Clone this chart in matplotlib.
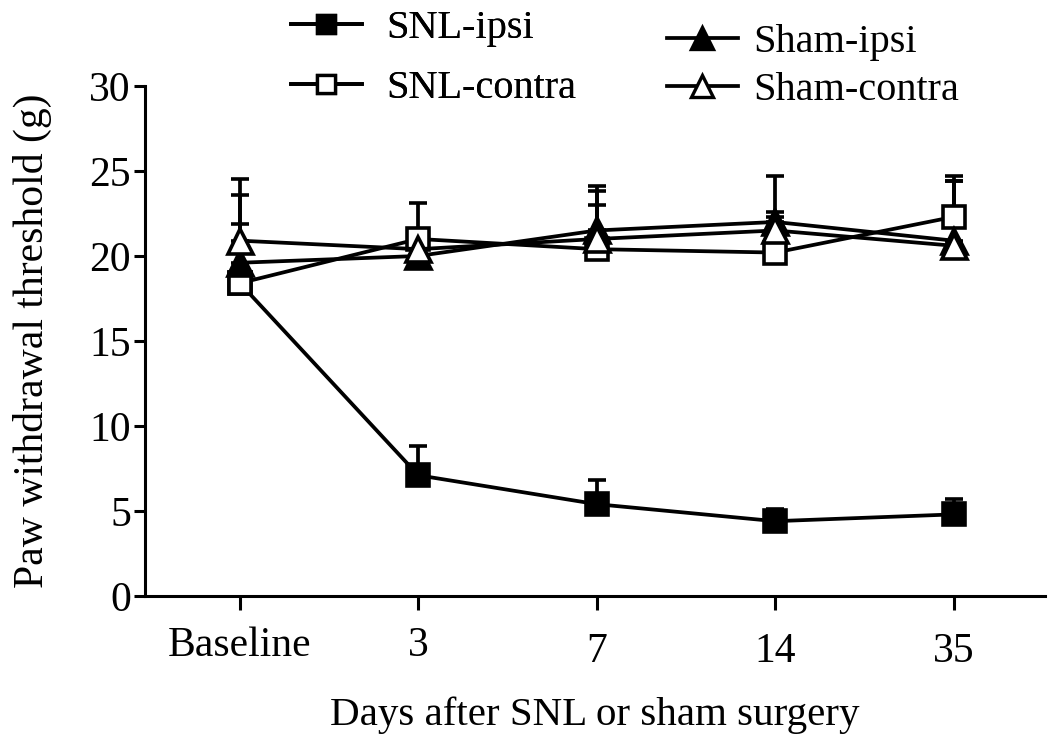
import matplotlib
matplotlib.use("Agg")
import matplotlib.pyplot as plt
from matplotlib.lines import Line2D
import numpy as np
from matplotlib.transforms import ScaledTranslation

plt.rcParams['font.family'] = ['Liberation Serif', 'DejaVu Serif']

categories = ["Baseline", "3", "7", "14", "35"]

snl_ipsi = [18.4, 7.1, 5.4, 4.4, 4.8]
snl_ipsi_err = [0.0, 1.7, 1.4, 0.7, 0.9]

snl_contra = [18.4, 21.0, 20.4, 20.2, 22.3]
snl_contra_err = [5.2, 2.1, 2.6, 2.1, 2.4]

sham_ipsi = [19.6, 20.0, 21.5, 22.0, 20.9]
sham_ipsi_err = [2.3, 0.0, 2.6, 2.7, 3.5]

sham_contra = [20.9, 20.4, 21.0, 21.5, 20.6]
sham_contra_err = [3.6, 0.0, 2.8, 1.1, 3.8]

fig = plt.figure(figsize=(10.5, 7.41), dpi=100)
ax = fig.add_axes([0.138, 0.1957, 0.857, 0.6883])

x = np.arange(len(categories))
lw = 2.7
ms = 16
common = dict(color='black', lw=lw, capsize=6.5, capthick=lw, elinewidth=lw,
              markeredgewidth=2.6, markeredgecolor='black', clip_on=False)

series = [
    ("SNL-ipsi", snl_ipsi, snl_ipsi_err, 's', 'black'),
    ("SNL-contra", snl_contra, snl_contra_err, 's', 'white'),
    ("Sham-ipsi", sham_ipsi, sham_ipsi_err, '^', 'black'),
    ("Sham-contra", sham_contra, sham_contra_err, '^', 'white'),
]
handles = {}
for name, vals, err, mk, fc in series:
    msz = ms if mk == 's' else ms + 2
    ax.errorbar(x, vals, yerr=[np.zeros(len(err)), err], marker=mk,
                markersize=msz, markerfacecolor=fc, label=name, **common)
    handles[name] = Line2D([], [], color='black', lw=lw, marker=mk,
                           markersize=msz * 0.85, markerfacecolor=fc,
                           markeredgecolor='black', markeredgewidth=2.4)

ax.set_xlim(-0.532, 4.51)
ax.set_ylim(0, 30)
ax.set_yticks([0, 5, 10, 15, 20, 25, 30])
ax.set_xticks(x)
ax.set_xticklabels(categories)
for sp in ['top', 'right']:
    ax.spines[sp].set_visible(False)
for sp in ['left', 'bottom']:
    ax.spines[sp].set_linewidth(2.2)
ax.tick_params(axis='y', length=8, width=2.2, labelsize=30, pad=2)
ax.tick_params(axis='x', length=10, width=2.2, labelsize=30, pad=12)
for i, lbl in enumerate(ax.get_xticklabels()):
    if i >= 2:
        lbl.set_transform(lbl.get_transform() + ScaledTranslation(0, -6/100, fig.dpi_scale_trans))

ax.set_ylabel("Paw withdrawal threshold (g)", fontsize=30, labelpad=27)
ax.set_xlabel("Days after SNL or sham surgery", fontsize=29.5, labelpad=18)

leg1 = fig.legend([handles["SNL-ipsi"], handles["SNL-contra"]], ["SNL-ipsi", "SNL-contra"],
                  loc='upper left', bbox_to_anchor=(0.262, 1.008), frameon=False,
                  fontsize=29, handlelength=1.75, handletextpad=0.6, labelspacing=0.55,
                  borderaxespad=0)
fig.add_artist(leg1)
leg2 = fig.legend([handles["Sham-ipsi"], handles["Sham-contra"]], ["Sham-ipsi", "Sham-contra"],
                  loc='upper left', bbox_to_anchor=(0.62, 0.99), frameon=False,
                  fontsize=29, handlelength=1.75, handletextpad=0.4, labelspacing=0.27,
                  borderaxespad=0)

fig.savefig("out.png", dpi=100)
